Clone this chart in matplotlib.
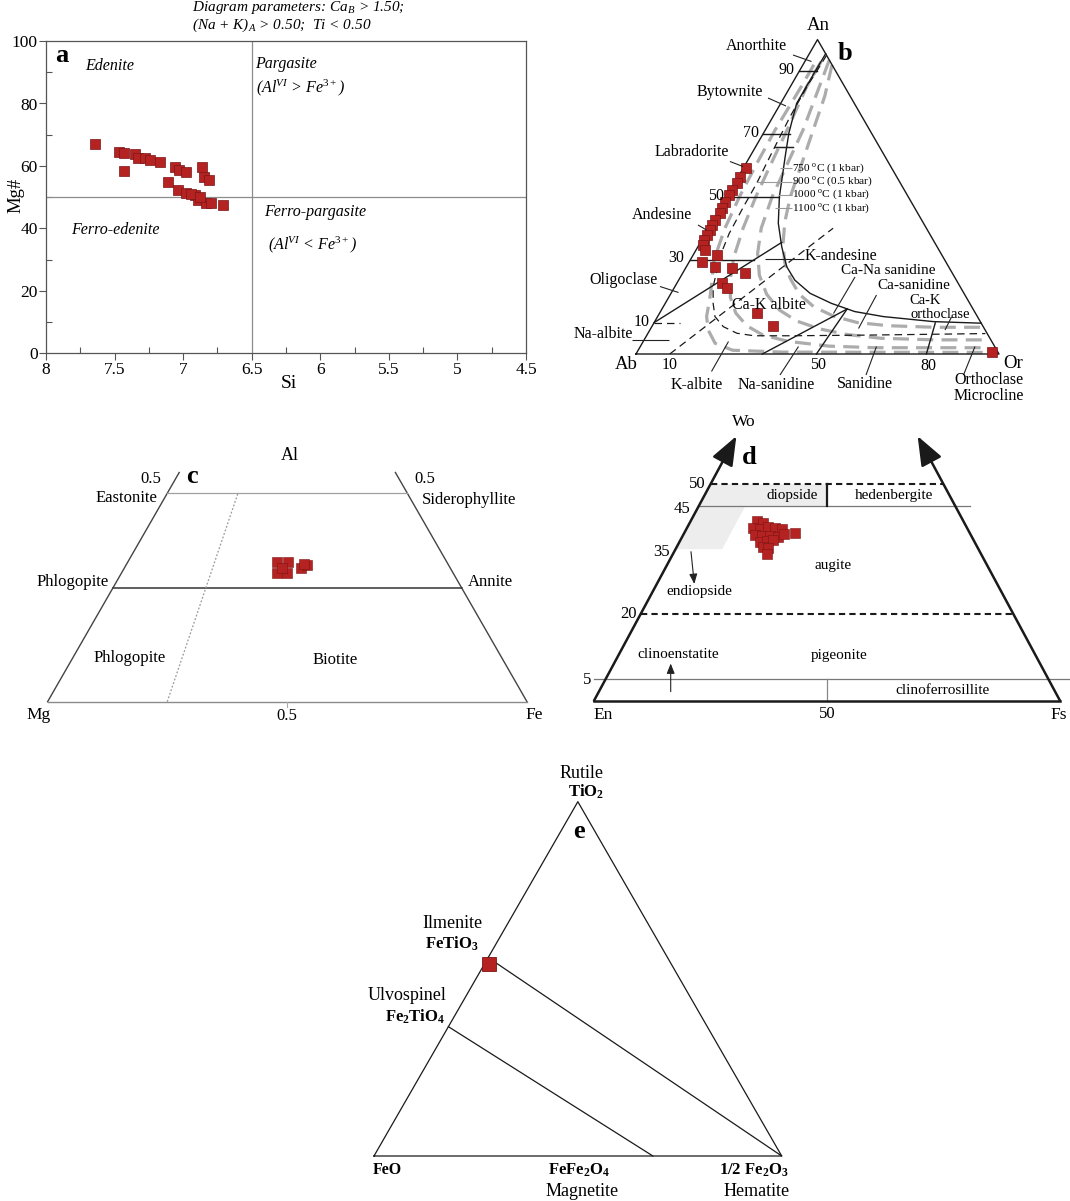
import numpy as np
import matplotlib
matplotlib.use('Agg')
import matplotlib.pyplot as plt
from matplotlib.patches import Polygon
from matplotlib.ticker import MultipleLocator, FuncFormatter

plt.rcParams['font.family'] = ['Liberation Serif', 'DejaVu Serif']
plt.rcParams['mathtext.fontset'] = 'custom'
plt.rcParams['mathtext.rm'] = 'Liberation Serif'
plt.rcParams['mathtext.it'] = 'Liberation Serif:italic'
plt.rcParams['mathtext.bf'] = 'Liberation Serif:bold'

# ---------------- data ----------------
# (a) amphibole: Si (apfu) vs Mg#
amph_si = [7.64, 7.47, 7.43, 7.35, 7.33, 7.28, 7.24, 7.17, 7.43, 7.06, 7.03, 6.98, 7.11,
           7.04, 6.98, 6.91, 6.86, 6.85, 6.81, 6.89, 6.83, 6.80, 6.71, 6.94, 6.88]
amph_mg = [67.0, 64.4, 64.0, 63.8, 62.4, 62.4, 61.9, 61.2, 58.4, 59.8, 58.7, 58.2, 55.0,
           52.3, 51.3, 50.7, 59.8, 56.6, 55.5, 49.1, 48.1, 48.3, 47.6, 51.0, 50.2]
a_xticks = [8, 7.5, 7, 6.5, 6, 5.5, 5, 4.5]
a_yticks = [0, 20, 40, 60, 80, 100]

# (b) feldspar: An %, Or %
fsp_an = [59.3, 56.4, 54.3, 52.2, 50.6, 48.5, 46.4, 44.8, 42.6, 41.0, 39.5, 37.9, 36.3,
          34.7, 33.1, 31.5, 29.4, 27.8, 27.3, 25.9, 22.7, 20.9, 13.1, 8.9, 0.7]
fsp_or = [0.7, 0.5, 0.6, 0.3, 0.2, 0.3, 0.4, 0.8, 0.5, 0.3, 0.7, 0.6, 0.6,
          1.2, 2.5, 6.5, 3.4, 7.9, 12.7, 17.1, 12.3, 14.7, 26.9, 33.2, 97.6]
# feldspar boundaries (An %, Or %)
solvus_an = [95.5, 89.8, 79.7, 70.2, 62.8, 50.0, 41.6, 34.1, 27.8, 23.5, 19.3, 16.1, 13.5, 11.9, 10.3, 9.8]
solvus_or = [4.5, 4.4, 4.4, 7.0, 9.7, 14.5, 18.4, 23.1, 27.6, 32.0, 38.3, 45.8, 53.5, 62.2, 76.8, 90.2]
inner_an = [95.0, 85.0, 75.5, 62.8, 54.3, 46.9, 38.4, 31.0, 21.3, 16.1, 11.9, 8.7, 6.6, 5.8, 5.8, 6.0, 6.3, 6.5]
inner_or = [5.0, 4.6, 4.7, 5.5, 6.1, 6.2, 6.5, 7.6, 10.6, 13.2, 15.8, 19.7, 24.5, 29.6, 40.0, 60.0, 80.0, 93.0]
iso750_an = [92, 85, 71, 60, 50, 40, 30, 22.5, 18.2, 11.9, 7.6, 3.4, 1.2, 0.6, 0.5]
iso750_or = [3.0, 3.0, 2.7, 3.0, 3.5, 4.5, 6.5, 9.6, 11.3, 13.5, 16.1, 20.1, 26, 40, 97]
iso900_an = [93, 85, 71.2, 60, 50, 40, 31, 24, 18, 13, 9, 6, 4, 2.5, 2.0, 2.0]
iso900_or = [4.5, 4.5, 6.0, 7.0, 8.0, 9.5, 11.5, 14.0, 17.0, 21.0, 26.0, 32.0, 40.0, 52.0, 65, 96]
iso1000_an = [93.5, 85, 71.2, 60, 50, 40, 32, 25, 19, 14, 10.5, 8, 6.2, 5.0, 4.5, 4.5]
iso1000_or = [6.5, 8.0, 10.4, 11.5, 12.5, 14.5, 17.5, 21.5, 26.5, 32.5, 39.0, 46.5, 55, 65, 80, 95]
iso1100_an = [92, 82, 71.2, 60, 50, 42, 35, 29, 24, 19, 15, 12, 10, 9, 8.5, 8.5]
iso1100_or = [8.0, 11.0, 13.2, 15.5, 17.5, 20.0, 23.0, 26.5, 30.5, 35.5, 41.5, 48.5, 56, 65, 78, 91]
# straight field boundaries: (An start, Or start, An end, Or end)
fsp_solid_segments = [(90, 0, 90, 4.9), (70, 0, 70, 7.3), (50, 0, 50, 14.5), (30, 0, 30, 17.5),
                      (10, 0, 35.5, 22.4), (0, 34.8, 14.3, 51.0), (0, 49.7, 14.3, 51.0),
                      (0, 80.0, 9.9, 77.5), (65.9, 5.3, 65.9, 10.3)]
fsp_dashed_segments = [(0, 9.3, 40, 34.3), (10, 0, 10, 7.1)]

# (c) biotite: Al %, Fe %
bt_al = [33.5, 33.5, 30.8, 30.8, 32.0, 32.0, 32.7, 33.0]
bt_fe = [31.2, 33.3, 32.5, 34.6, 32.9, 36.9, 37.7, 37.0]

# (d) pyroxene: Wo %, Fs %
px_wo = [41.5, 41.0, 39.8, 39.6, 40.2, 39.8, 39.6, 38.3, 38.0, 38.0, 37.9, 38.5, 38.7,
         36.7, 36.95, 37.1, 35.6, 35.2, 33.9]
px_fs = [14.2, 15.7, 14.3, 15.8, 17.3, 18.9, 20.5, 15.4, 17.0, 18.8, 20.6, 21.55, 23.8,
         17.25, 18.6, 19.95, 18.4, 19.8, 20.25]
endi_wo = [50, 50, 45, 45, 35, 35]
endi_fs = [0, 25, 27.5, 10, 10, 0]

# (e) Fe-Ti oxide: TiO2 %, 1/2 Fe2O3 %
ox_ti = [54.2]
ox_fe3 = [1.0]
ilm_tie = (56.0, 0.0)      # TiO2, Fe2O3 of ilmenite end of the tie line
usp_tie = (36.5, 0.0)
mag_tie = (0.0, 68.4)

RED = '#b42222'
EDGE = '#7c1414'

W, H = 1070, 1201
fig = plt.figure(figsize=(W / 100, H / 100), dpi=100)


def px_axes(x0, y0, x1, y1, z=1):
    ax = fig.add_axes([x0 / W, 1 - y1 / H, (x1 - x0) / W, (y1 - y0) / H])
    ax.set_zorder(z)
    ax.patch.set_alpha(0)
    return ax


def tern_axes(rect, origin, sx, sy):
    x0, y0, x1, y1 = rect
    ox, oy = origin
    ax = px_axes(*rect)
    ax.set_xlim((x0 - ox) / sx, (x1 - ox) / sx)
    ax.set_ylim((oy - y1) / sy, (oy - y0) / sy)
    ax.axis('off')
    return ax


def tern(top, right):
    t = np.asarray(top, float) / 100
    r = np.asarray(right, float) / 100
    return r + t / 2, t


def tline(ax, top, right, **kw):
    x, y = tern(top, right)
    ax.plot(x, y, **kw)


# overlay for text and leaders (pixel coordinates)
ov = px_axes(0, 0, W, H, z=10)
ov.set_xlim(0, W)
ov.set_ylim(H, 0)
ov.axis('off')


def T(x, y, s, size=11.5, ha='center', va='center', **kw):
    ov.text(x, y, s, size=size, ha=ha, va=va, **kw)


def L(x0, y0, x1, y1, color='#222', lw=0.8):
    ov.plot([x0, x1], [y0, y1], color=color, lw=lw, solid_capstyle='butt')


# ---------------- (a) ----------------
axa = px_axes(46, 41, 526, 353.5)
axa.set_xlim(8, 4.5)
axa.set_ylim(0, 100)
axa.axvline(6.5, color='#8c8c8c', lw=0.9)
axa.axhline(50, color='#8c8c8c', lw=0.9)
axa.plot(amph_si, amph_mg, 's', ms=7.5, mfc=RED, mec=EDGE, mew=0.5, ls='none', zorder=3)
axa.set_xticks(a_xticks)
axa.set_yticks(a_yticks)
axa.xaxis.set_major_formatter(FuncFormatter(lambda v, p: '%g' % v))
axa.xaxis.set_minor_locator(MultipleLocator(0.25))
axa.yaxis.set_minor_locator(MultipleLocator(10))
axa.tick_params(which='major', direction='out', length=5, width=0.8, color='#555',
                labelsize=12.5, pad=1)
axa.tick_params(which='minor', direction='in', length=4, width=0.8, color='#555')
for sp in axa.spines.values():
    sp.set_color('#555')
    sp.set_linewidth(0.9)

T(191.5, 8, r'Diagram parameters: Ca$_B$ > 1.50;', size=11, ha='left', style='italic')
T(191.5, 25.5, r'(Na + K)$_A$ > 0.50;  Ti < 0.50', size=11, ha='left', style='italic')
T(62, 56, 'a', size=19, weight='bold')
T(110, 65.5, 'Edenite', size=11.5, style='italic')
T(255.5, 64.5, 'Pargasite', size=11.5, ha='left', style='italic')
T(256.5, 88, r'(Al$^{VI}$ > Fe$^{3+}$)', size=11.5, ha='left', style='italic')
T(264.5, 211.5, 'Ferro-pargasite', size=11.5, ha='left', style='italic')
T(268, 244.5, r'(Al$^{VI}$ < Fe$^{3+}$)', size=11.5, ha='left', style='italic')
T(71, 230, 'Ferro-edenite', size=11.5, ha='left', style='italic')
T(289, 383, 'Si', size=14)
T(16, 195, 'Mg#', size=13.5, rotation=90)

# ---------------- (b) ----------------
axb = tern_axes((540, 0, 1070, 420), (636, 354), 363, 314.4)
GRAY = '#acacac'
for an_, or_ in [(iso750_an, iso750_or), (iso900_an, iso900_or),
                 (iso1000_an, iso1000_or), (iso1100_an, iso1100_or)]:
    tline(axb, an_, or_, color=GRAY, lw=2.3, ls=(0, (5, 2.6)), zorder=1)
tline(axb, [0, 0, 100, 0], [0, 100, 0, 0], color='#1a1a1a', lw=1.0, zorder=2)
tline(axb, solvus_an, solvus_or, color='#1a1a1a', lw=1.0, zorder=2)
tline(axb, inner_an, inner_or, color='#1a1a1a', lw=0.9, ls=(0, (6, 4)), zorder=2)
for a0, o0, a1, o1 in fsp_solid_segments:
    tline(axb, [a0, a1], [o0, o1], color='#1a1a1a', lw=1.0, zorder=2)
for a0, o0, a1, o1 in fsp_dashed_segments:
    tline(axb, [a0, a1], [o0, o1], color='#1a1a1a', lw=0.9, ls=(0, (6, 4)), zorder=2)
xb, yb = tern(fsp_an, fsp_or)
axb.plot(xb, yb, 's', ms=7, mfc=RED, mec=EDGE, mew=0.5, ls='none', zorder=4)

T(818.5, 25, 'An', size=13.5)
T(845, 54, 'b', size=19, weight='bold')
T(756.5, 46.5, 'Anorthite')
L(793, 55, 811.5, 61.5)
T(786.5, 70.5, '90')
T(729.5, 91.5, 'Bytownite')
L(768, 98, 786, 106)
T(750.5, 133, '70')
T(691.5, 151.5, 'Labradorite')
L(730, 161.5, 743, 166.5)
L(775, 146.7, 793, 146.7)
tl = [(168.3, r'750 $^{\mathrm{o}}$C (1 kbar)', 780),
      (181.5, r'900 $^{\mathrm{o}}$C (0.5 kbar)', 757),
      (194.5, r'1000 $^{\mathrm{o}}$C (1 kbar)', 778),
      (208.0, r'1100 $^{\mathrm{o}}$C (1 kbar)', 775)]
for yy, s, xl in tl:
    T(792.5, yy, s, size=8.2, ha='left')
    L(xl, yy, 791.5, yy, color='#9a9a9a', lw=0.8)
T(716.5, 196.5, '50')
T(661.5, 215, 'Andesine')
L(698, 225, 706.5, 230)
T(676.5, 258.5, '30')
T(841, 256.5, 'K-andesine')
L(765, 259.3, 803.5, 259.3)
T(623.5, 279.5, 'Oligoclase')
L(660, 286.5, 678.5, 292.5)
T(888.5, 271, 'Ca-Na sanidine', size=11)
L(855, 277, 833.5, 313.5)
T(913.5, 285.5, 'Ca-sanidine', size=11)
L(876.5, 295, 858.5, 328.5)
T(925, 301, 'Ca-K', size=10.5)
T(940, 315, 'orthoclase', size=10.5)
L(951.5, 317, 945, 330)
T(768.5, 305, 'Ca-K albite')
T(641.5, 322.5, '10')
T(603.5, 333.5, 'Na-albite')
L(631.5, 340, 668.5, 340)
T(626, 364.5, 'Ab', size=13.5)
T(670, 365, '10')
T(818.5, 365, '50')
T(928.5, 365.5, '80')
T(1013.5, 363, 'Or', size=13.5)
T(696.5, 385, 'K-albite')
L(711.5, 371.5, 728.5, 341.5)
T(776.5, 385, 'Na-sanidine')
L(780, 375, 798.5, 346.5)
T(865, 383.5, 'Sanidine')
L(866, 375, 876.5, 346.5)
T(989, 380, 'Orthoclase')
T(989, 395.5, 'Microcline')
L(963.5, 375, 975, 346.5)

# ---------------- (c) ----------------
axc = tern_axes((0, 440, 545, 740), (47.6, 701.7), 479.4, 417.5)
tline(axc, [0, 54.9], [0, 0], color='#444', lw=1.0)
tline(axc, [0, 54.9], [100, 45.1], color='#444', lw=1.0)
tline(axc, [0, 0], [0, 100], color='#8a8a8a', lw=1.0)
tline(axc, [49.9, 49.9], [0, 50.1], color='#a0a0a0', lw=0.9)
tline(axc, [27.3, 27.3], [0, 72.7], color='#333', lw=1.1)
tline(axc, [0, 49.9], [24.95, 14.75], color='#999', lw=0.9, ls=(0, (1.5, 1.5)))
tline(axc, [0, -1.2], [50, 50.6], color='#aaa', lw=0.8)
xc, yc = tern(bt_al, bt_fe)
axc.plot(xc, yc, 's', ms=7.3, mfc=RED, mec=EDGE, mew=0.4, ls='none', zorder=4)

T(289.5, 455, 'Al', size=13)
T(150.5, 479, '0.5', size=12)
T(192, 476.5, 'c', size=19, weight='bold')
T(126.5, 497.5, 'Eastonite', size=12)
T(425, 479, '0.5', size=12)
T(469, 500, 'Siderophyllite', size=12)
T(73, 582.5, 'Phlogopite', size=12)
T(490, 582.5, 'Annite', size=12)
T(129.5, 658.5, 'Phlogopite', size=12)
T(335, 660, 'Biotite', size=12)
T(38.5, 715, 'Mg', size=12.5)
T(287, 716.5, '0.5', size=12)
T(534, 715, 'Fe', size=12.5)

# ---------------- (d) ----------------
axd = tern_axes((560, 400, 1070, 740), (594, 700.7), 466, 433)
pxy = tern(endi_wo, endi_fs)
axd.add_patch(Polygon(np.column_stack(pxy), closed=True, fc='#ededed', ec='none', zorder=0))
tline(axd, [0, 0], [0, 100], color='#1a1a1a', lw=1.8, zorder=3)
for xy_tip, xy_base in [(tern(61.1, 0), tern(0, 0)), (tern(61.1, 38.9), tern(0, 100))]:
    axd.annotate('', xy=(float(xy_tip[0]), float(xy_tip[1])),
                 xytext=(float(xy_base[0]), float(xy_base[1])),
                 arrowprops=dict(arrowstyle='-|>,head_length=0.9,head_width=0.35',
                                 mutation_scale=20, lw=1.8, color='#1a1a1a',
                                 shrinkA=0, shrinkB=0), zorder=3)
tline(axd, [50, 50], [0, 50], color='#1a1a1a', lw=1.5, ls=(0, (3, 2)), zorder=2)
tline(axd, [20, 20], [0, 80], color='#1a1a1a', lw=1.5, ls=(0, (3, 2)), zorder=2)
tline(axd, [45, 45], [0, 58.2], color='#777', lw=0.9, zorder=2)
tline(axd, [5, 5], [-2.5, 99.6], color='#777', lw=0.9, zorder=2)
tline(axd, [50, 45], [25, 27.5], color='#1a1a1a', lw=1.6, zorder=2)
tline(axd, [5, 0], [47.5, 50], color='#888', lw=0.9, zorder=2)
xd, yd = tern(px_wo, px_fs)
axd.plot(xd, yd, 's', ms=7, mfc=RED, mec=EDGE, mew=0.4, ls='none', zorder=4)

ov.annotate('', xy=(694.3, 584), xytext=(691, 551.7),
            arrowprops=dict(arrowstyle='-|>,head_length=0.5,head_width=0.2', mutation_scale=12,
                            lw=0.8, color='#222', shrinkA=0, shrinkB=0))
ov.annotate('', xy=(670.7, 663.5), xytext=(670.7, 691.7),
            arrowprops=dict(arrowstyle='-|>,head_length=0.5,head_width=0.2', mutation_scale=12,
                            lw=0.8, color='#222', shrinkA=0, shrinkB=0))
T(743.5, 422.5, 'Wo', size=12.5)
T(749.5, 458, 'd', size=19, weight='bold')
T(697, 484, '50', size=12)
T(682, 509, '45', size=12)
T(661.5, 552.5, '35', size=12)
T(628.5, 614, '20', size=12)
T(587.5, 680.5, '5', size=12)
T(792, 495, 'diopside', size=11)
T(893.5, 496, 'hedenbergite', size=11)
T(833, 565.5, 'augite', size=11)
T(699, 591.5, 'endiopside', size=11)
T(678.5, 655, 'clinoenstatite', size=11)
T(839, 655, 'pigeonite', size=11)
T(943, 690, 'clinoferrosillite', size=11)
T(603, 715, 'En', size=12.5)
T(827, 714.5, '50', size=12)
T(1059, 715, 'Fs', size=12.5)

# ---------------- (e) ----------------
axe = tern_axes((340, 760, 840, 1201), (374, 1156), 407.7, 354.3)
tline(axe, [0, 0, 100, 0], [0, 100, 0, 0], color='#1a1a1a', lw=0.9)
tline(axe, [ilm_tie[0], 0], [ilm_tie[1], 100], color='#1a1a1a', lw=0.9)
tline(axe, [usp_tie[0], mag_tie[0]], [usp_tie[1], mag_tie[1]], color='#1a1a1a', lw=0.9)
xe, ye = tern(ox_ti, ox_fe3)
axe.plot(xe, ye, 's', ms=10.5, mfc=RED, mec=EDGE, mew=0.6, ls='none', zorder=4)

T(581.5, 773, 'Rutile', size=13)
T(586, 792, r'TiO$_\mathbf{2}$', size=12, weight='bold')
T(578.5, 831, 'e', size=19, weight='bold')
T(452, 923.5, 'Ilmenite', size=13)
T(452, 944, r'FeTiO$_\mathbf{3}$', size=12, weight='bold')
T(407, 996, 'Ulvospinel', size=13)
T(415, 1017, r'Fe$_\mathbf{2}$TiO$_\mathbf{4}$', size=12, weight='bold')
T(387, 1169.5, 'FeO', size=11.5, weight='bold')
T(579.5, 1170.5, r'FeFe$_\mathbf{2}$O$_\mathbf{4}$', size=12, weight='bold')
T(582, 1191, 'Magnetite', size=13)
T(753.5, 1170.5, r'1/2 Fe$_\mathbf{2}$O$_\mathbf{3}$', size=12, weight='bold')
T(757, 1191, 'Hematite', size=13)

fig.savefig('out.png', dpi=100)
